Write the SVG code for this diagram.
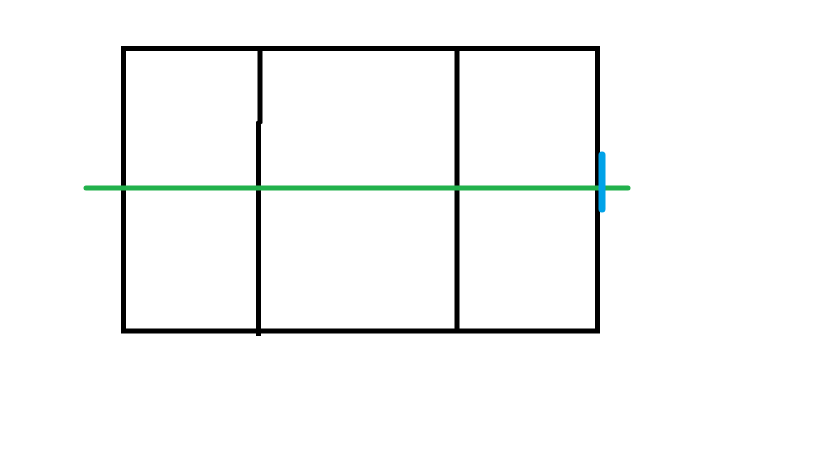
<svg xmlns="http://www.w3.org/2000/svg" width="819" height="460" viewBox="0 0 819 460">
<style>
.k{stroke:#000;stroke-width:5;fill:none;stroke-linecap:butt}
</style>
<rect width="819" height="460" fill="#fff"/>
<g id="frame">
<rect class="k" x="123.5" y="48.5" width="474" height="282.5"/>
</g>
<g id="dividers">
<polyline class="k" points="260,48 260,122 258.5,123 258.5,336"/>
<line class="k" x1="457" y1="48" x2="457" y2="331"/>
</g>
<g id="connectors">
<line x1="86" y1="188" x2="628" y2="188" stroke="#22b14c" stroke-width="5" stroke-linecap="round"/>
<line x1="602" y1="155" x2="602" y2="209" stroke="#00a2e8" stroke-width="7" stroke-linecap="round"/>
</g>
</svg>
